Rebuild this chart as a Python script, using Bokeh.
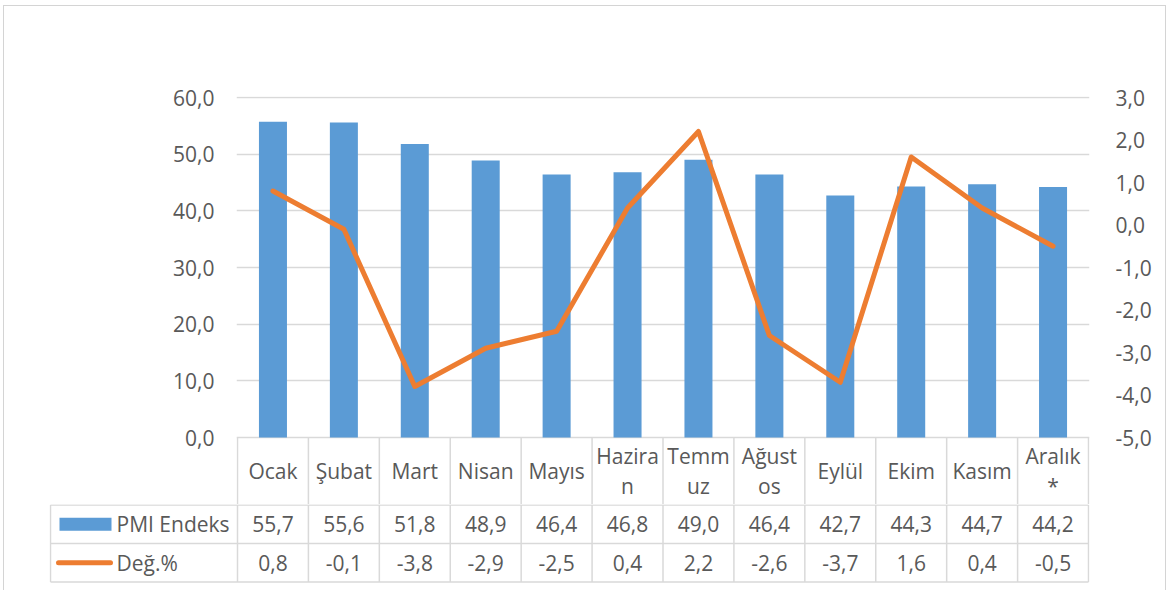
from bokeh.plotting import figure
from bokeh.models import Range1d, LinearAxis, FixedTicker, CustomJSTickFormatter
from bokeh.layouts import column
from bokeh.embed import file_html
from bokeh.resources import INLINE
from bokeh.core.properties import value

# ---- data ----
months = ["Ocak", "Şubat", "Mart", "Nisan", "Mayıs", "Hazira\nn", "Temm\nuz",
          "Ağust\nos", "Eylül", "Ekim", "Kasım", "Aralık\n*"]
pmi = [55.7, 55.6, 51.8, 48.9, 46.4, 46.8, 49.0, 46.4, 42.7, 44.3, 44.7, 44.2]
deg = [0.8, -0.1, -3.8, -2.9, -2.5, 0.4, 2.2, -2.6, -3.7, 1.6, 0.4, -0.5]
series_names = ["PMI Endeks", "Değ.%"]
left_ticks = [0, 10, 20, 30, 40, 50, 60]
right_ticks = [-5, -4, -3, -2, -1, 0, 1, 2, 3]

# ---- style ----
FONT = "Open Sans"
FS = "21px"
TXT = "#595959"
GRID = "#d9d9d9"
BLUE = "#5B9BD5"
ORANGE = "#ED7D31"

# ---- layout (page px) ----
OX, OY = 4, 6     # content origin inside the chart-area border
W = 1161
BL = 237 - OX     # left edge of plot area
BR = 1088 - OX    # right edge of plot area
CAT_W = (BR - BL) / 12.0
PAD = 1
TOP_B = 96 - OY
PLOT_H = 340
HEAD_H = 67
LEG_X = 50 - OX   # left edge of table legend column
LEG_W = BL - LEG_X
ROW_H = 38.5
BOT_EXTRA = 6

fmt = CustomJSTickFormatter(code="return tick.toFixed(1).replace('.', ',');")
def tr(v):
    return f"{v:.1f}".replace(".", ",")

xc = [i + 0.5 for i in range(len(months))]
bounds = list(range(len(months) + 1))

k_left = PLOT_H / (left_ticks[-1] - left_ticks[0])
k_right = PLOT_H / (right_ticks[-1] - right_ticks[0])

top = figure(width=W, height=TOP_B + PAD + PLOT_H + HEAD_H,
             x_range=Range1d(-PAD / CAT_W, 12 + PAD / CAT_W),
             y_range=Range1d(left_ticks[0] - HEAD_H / k_left, left_ticks[-1] + PAD / k_left),
             output_backend="svg", toolbar_location=None, x_axis_location=None,
             min_border_left=BL - PAD, min_border_right=W - BR - PAD,
             min_border_top=TOP_B, min_border_bottom=0)
top.frame_align = False
top.outline_line_color = None
top.xgrid.visible = False
top.ygrid.ticker = FixedTicker(ticks=left_ticks)
top.ygrid.grid_line_color = GRID
top.ygrid.grid_line_width = 1.5

yl = top.yaxis[0]
yl.ticker = FixedTicker(ticks=left_ticks)
yl.formatter = fmt

top.extra_y_ranges = {"deg": Range1d(right_ticks[0] - HEAD_H / k_right, right_ticks[-1] + PAD / k_right)}
yr = LinearAxis(y_range_name="deg", ticker=FixedTicker(ticks=right_ticks), formatter=fmt)
top.add_layout(yr, "right")

for ax, so in ((yl, 16), (yr, 20)):
    ax.axis_line_color = None
    ax.major_tick_line_color = None
    ax.minor_tick_line_color = None
    ax.major_label_text_font = FONT
    ax.major_label_text_font_size = FS
    ax.major_label_text_color = TXT
    ax.major_label_standoff = so

top.vbar(x=xc, top=pmi, bottom=0, width=0.395, fill_color=BLUE, line_color=None)
top.line(x=xc, y=deg, y_range_name="deg", line_width=5, line_color=ORANGE,
         line_join="round", line_cap="round")

# header row of table (inside top frame)
y0 = left_ticks[0]
yb = left_ticks[0] - HEAD_H / k_left
top.segment(x0=bounds, y0=[y0] * len(bounds), x1=bounds, y1=[yb] * len(bounds),
            line_color=GRID, line_width=1.5)
top.text(x=xc, y=[y0 - HEAD_H / 2 / k_left] * len(xc), text=months,
         text_font=value(FONT), text_font_size=FS, text_color=TXT,
         text_align="center", text_baseline="middle", text_line_height=1.1)

# ---- bottom table rows ----
pad_t = 0.5 / ROW_H
pad_b = 2.5 / ROW_H
leg = LEG_W / CAT_W
bot = figure(width=W, height=int(2 * ROW_H + 3) + BOT_EXTRA,
             x_range=Range1d(-leg - PAD / CAT_W, 12 + PAD / CAT_W),
             y_range=Range1d(-2 - pad_b, pad_t),
             output_backend="svg", toolbar_location=None,
             x_axis_location=None, y_axis_location=None,
             min_border_left=LEG_X - PAD, min_border_right=W - BR - PAD,
             min_border_top=0, min_border_bottom=BOT_EXTRA)
bot.frame_align = False
bot.outline_line_color = None
bot.xgrid.visible = False
bot.ygrid.visible = False

hy = [0, -1, -2]
bot.segment(x0=[-leg] * 3, y0=hy, x1=[12] * 3, y1=hy, line_color=GRID, line_width=1.5)
vx = [-leg] + bounds
bot.segment(x0=vx, y0=[0] * len(vx), x1=vx, y1=[-2] * len(vx), line_color=GRID, line_width=1.5)

bot.text(x=xc, y=[-0.5] * 12, text=[tr(v) for v in pmi], text_font=value(FONT),
         text_font_size=FS, text_color=TXT, text_align="center", text_baseline="middle")
bot.text(x=xc, y=[-1.5] * 12, text=[tr(v) for v in deg], text_font=value(FONT),
         text_font_size=FS, text_color=TXT, text_align="center", text_baseline="middle")

def lx(px):
    return -leg + px / CAT_W

bot.rect(x=[lx(35)], y=[-0.5], width=[52 / CAT_W], height=[13], height_units="screen",
         fill_color=BLUE, line_color=None)
bot.segment(x0=[lx(8)], y0=[-1.5], x1=[lx(60)], y1=[-1.5], line_color=ORANGE,
            line_width=5, line_cap="round")
bot.text(x=[lx(66), lx(66)], y=[-0.5, -1.5], text=series_names, text_font=value(FONT),
         text_font_size=FS, text_color=TXT, text_align="left", text_baseline="middle")

layout = column(top, bot, spacing=0,
                styles={"border-left": "1px solid #d4d4d4",
                        "border-top": "1px solid #d4d4d4",
                        "border-right": "1px solid #d4d4d4",
                        "margin-left": "3px", "margin-top": "5px"})
open("out.html", "w").write(file_html(layout, INLINE))
